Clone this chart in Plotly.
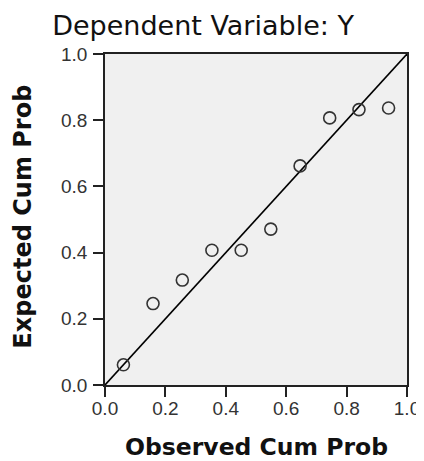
import plotly.graph_objects as go

observed = [0.061, 0.159, 0.256, 0.354, 0.451, 0.549, 0.646, 0.744, 0.841, 0.939]
expected = [0.061, 0.246, 0.317, 0.407, 0.407, 0.471, 0.662, 0.807, 0.832, 0.837]
ref_line = [0.0, 1.0]
tick_vals = [0.0, 0.2, 0.4, 0.6, 0.8, 1.0]
tick_text = ["0.0", "0.2", "0.4", "0.6", "0.8", "1.0"]

fig = go.Figure()
fig.add_trace(go.Scatter(x=ref_line, y=ref_line, mode="lines",
                         line=dict(color="black", width=1.6), hoverinfo="skip"))
fig.add_trace(go.Scatter(x=observed, y=expected, mode="markers",
                         marker=dict(symbol="circle-open", size=12,
                                     line=dict(color="#333333", width=1.6),
                                     color="#333333")))

axis_common = dict(range=[0, 1], tickvals=tick_vals, ticktext=tick_text,
                   ticks="outside", ticklen=10, tickwidth=1.6, tickcolor="#222222",
                   showline=True, linecolor="#222222", linewidth=1.6, mirror=True,
                   showgrid=False, zeroline=False,
                   tickfont=dict(family="Liberation Sans, Arial", size=19, color="#333333"))

fig.update_layout(
    width=424, height=461,
    margin=dict(l=97, r=12, t=46, b=84),
    paper_bgcolor="white", plot_bgcolor="#f0f0f0",
    showlegend=False,
    title=dict(text="Dependent Variable: Y", x=0.46, xanchor="center", y=0.963, yanchor="middle",
               font=dict(family="DejaVu Sans", size=27, color="#111111")),
    xaxis=dict(**axis_common, ticklabelstandoff=-5),
    yaxis=dict(**axis_common, ticklabelstandoff=2),
    annotations=[
        dict(text="Observed Cum Prob", xref="paper", yref="paper", x=0.5, y=-0.187,
             xanchor="center", yanchor="middle", showarrow=False,
             font=dict(family="DejaVu Sans", size=23.5, color="#111111", weight="bold")),
        dict(text="Expected Cum Prob", xref="paper", yref="paper", x=-0.270, y=0.51,
             xanchor="center", yanchor="middle", textangle=-90, showarrow=False,
             font=dict(family="DejaVu Sans", size=24, color="#111111", weight="bold")),
    ],
)

fig.write_html("out.html")
